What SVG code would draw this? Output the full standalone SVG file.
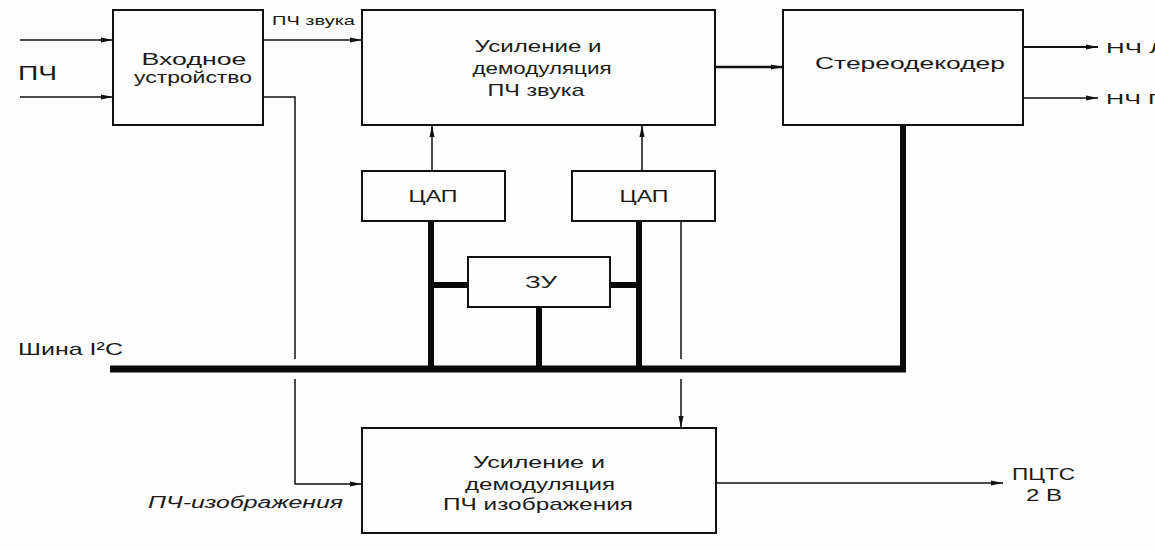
<svg xmlns="http://www.w3.org/2000/svg" width="1155" height="550" viewBox="0 0 1155 550">
<style>
.box{fill:none;stroke:#111;stroke-width:2}
.t{font-family:"Liberation Sans",Arial,sans-serif;font-size:17px;fill:#1a1a1a;text-anchor:middle}
.l{font-family:"Liberation Sans",Arial,sans-serif;fill:#1a1a1a}
.thin{stroke:#111;stroke-width:1.5;fill:none}
.thick{stroke:#0a0a0a;stroke-width:6;fill:none}
.bus{stroke:#0a0a0a;stroke-width:7;fill:none}
</style>
<defs>
<marker id="a" viewBox="0 0 12 6" refX="12" refY="3" markerWidth="12" markerHeight="6" markerUnits="userSpaceOnUse" orient="auto">
<path d="M0,0.5 L12,3 L0,5.5 z" fill="#111"/>
</marker>
</defs>
<rect width="1155" height="550" fill="#fcfdfc"/>

<g id="connectors">
<path class="thin" d="M20,40 H113" marker-end="url(#a)"/>
<path class="thin" d="M20,97 H113" marker-end="url(#a)"/>
<path class="thin" d="M263,40 H362" marker-end="url(#a)"/>
<path class="thin" d="M263,97 H295 V359"/>
<path class="thin" d="M295,379 V484 H362" marker-end="url(#a)"/>
<path class="thin" d="M715,67 H783" marker-end="url(#a)" style="stroke-width:2.5"/>
<path class="thin" d="M1023,47 H1098" marker-end="url(#a)" style="stroke-width:2"/>
<path class="thin" d="M1023,98 H1098" marker-end="url(#a)"/>
<path class="thin" d="M432,171 V125" marker-end="url(#a)"/>
<path class="thin" d="M642,171 V125" marker-end="url(#a)"/>
<path class="thin" d="M681,221 V359"/>
<path class="thin" d="M681,379 V428" marker-end="url(#a)"/>
<path class="thin" d="M716,483 H1003" marker-end="url(#a)"/>
<path class="thick" d="M431,221 V368"/>
<path class="thick" d="M639,221 V368"/>
<path class="thick" d="M431,285 H468"/>
<path class="thick" d="M610,285 H639"/>
<path class="thick" d="M539,307 V368"/>
<path class="thick" d="M903,125 V368"/>
<path class="bus" d="M110,369 H906"/>
</g>

<g id="input-device">
<rect class="box" x="113" y="10" width="150" height="115"/>
<text class="t" x="194" y="65" textLength="105" lengthAdjust="spacingAndGlyphs">Входное</text>
<text class="t" x="193" y="83" textLength="118" lengthAdjust="spacingAndGlyphs">устройство</text>
</g>

<g id="sound-if">
<rect class="box" x="362" y="10" width="353" height="115"/>
<text class="t" x="538" y="52" textLength="127" lengthAdjust="spacingAndGlyphs">Усиление и</text>
<text class="t" x="542" y="74" textLength="139" lengthAdjust="spacingAndGlyphs">демодуляция</text>
<text class="t" x="536" y="96" textLength="97" lengthAdjust="spacingAndGlyphs">ПЧ звука</text>
</g>

<g id="stereo-decoder">
<rect class="box" x="783" y="10" width="240" height="115"/>
<text class="t" x="910" y="69" textLength="190" lengthAdjust="spacingAndGlyphs">Стереодекодер</text>
</g>

<g id="dac1">
<rect class="box" x="362" y="171" width="143" height="50"/>
<text class="t" x="433" y="202" textLength="49" lengthAdjust="spacingAndGlyphs">ЦАП</text>
</g>

<g id="dac2">
<rect class="box" x="572" y="171" width="143" height="50"/>
<text class="t" x="644" y="202" textLength="49" lengthAdjust="spacingAndGlyphs">ЦАП</text>
</g>

<g id="memory">
<rect class="box" x="468" y="257" width="142" height="50"/>
<text class="t" x="541" y="288" textLength="32" lengthAdjust="spacingAndGlyphs">ЗУ</text>
</g>

<g id="video-if">
<rect class="box" x="362" y="428" width="354" height="105"/>
<text class="t" x="539" y="468" textLength="132" lengthAdjust="spacingAndGlyphs">Усиление и</text>
<text class="t" x="540" y="490" textLength="150" lengthAdjust="spacingAndGlyphs">демодуляция</text>
<text class="t" x="538" y="510" textLength="190" lengthAdjust="spacingAndGlyphs">ПЧ изображения</text>
</g>

<g id="labels">
<text class="l" x="18" y="80" font-size="20" textLength="39" lengthAdjust="spacingAndGlyphs">ПЧ</text>
<text class="l" x="272" y="25" font-size="12" textLength="83" lengthAdjust="spacingAndGlyphs">ПЧ звука</text>
<text class="l" x="1106" y="53" font-size="15" textLength="60" lengthAdjust="spacingAndGlyphs">НЧ Л</text>
<text class="l" x="1106" y="104" font-size="15" textLength="60" lengthAdjust="spacingAndGlyphs">НЧ П</text>
<text class="l" x="18" y="355" font-size="17" textLength="105" lengthAdjust="spacingAndGlyphs">Шина I²C</text>
<text class="l" x="148" y="508" font-size="16" font-style="italic" textLength="195" lengthAdjust="spacingAndGlyphs">ПЧ-изображения</text>
<text class="l" x="1012" y="480" font-size="16" textLength="63" lengthAdjust="spacingAndGlyphs">ПЦТС</text>
<text class="l" x="1026" y="501" font-size="16" textLength="36" lengthAdjust="spacingAndGlyphs">2 В</text>
</g>
</svg>
